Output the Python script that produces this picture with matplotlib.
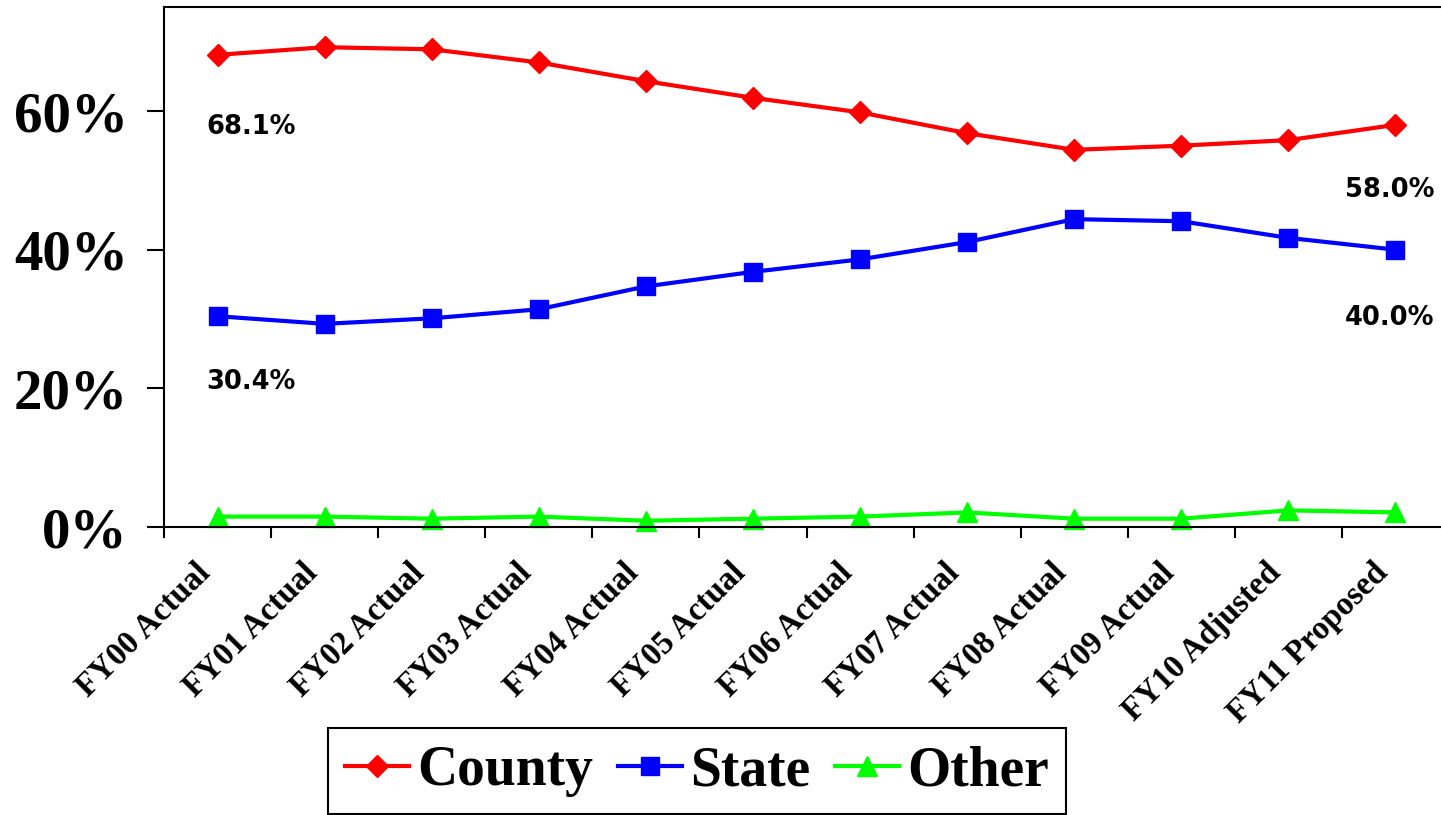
import matplotlib
matplotlib.use("Agg")
import matplotlib.pyplot as plt
import matplotlib.transforms as mtransforms
import numpy as np

categories = ["FY00 Actual", "FY01 Actual", "FY02 Actual", "FY03 Actual",
              "FY04 Actual", "FY05 Actual", "FY06 Actual", "FY07 Actual",
              "FY08 Actual", "FY09 Actual", "FY10 Adjusted", "FY11 Proposed"]
county = [68.1, 69.2, 68.9, 67.0, 64.3, 61.9, 59.8, 56.8, 54.4, 55.0, 55.8, 58.0]
state = [30.4, 29.3, 30.1, 31.4, 34.7, 36.8, 38.6, 41.1, 44.4, 44.1, 41.7, 40.0]
other = [1.5, 1.5, 1.2, 1.5, 0.9, 1.2, 1.5, 2.1, 1.2, 1.2, 2.4, 2.1]
yticks = [0, 20, 40, 60]
ytick_labels = ["0%", "20%", "40%", "60%"]

serif = "Liberation Serif"
sans = "DejaVu Sans"

fig = plt.figure(figsize=(14.41, 8.15), dpi=100)
ax = fig.add_axes([164 / 1441, 1 - 527 / 815, (1449 - 164) / 1441, (527 - 7) / 815])

x = np.arange(len(categories))
l1, = ax.plot(x, county, color="#FF0000", lw=3, marker="D", ms=11.5,
              mfc="#FF0000", mec="#FF0000", label="County", clip_on=False)
l2, = ax.plot(x, state, color="#0000FF", lw=3, marker="s", ms=13.5,
              mfc="#0000FF", mec="#0000FF", label="State", clip_on=False)
l3, = ax.plot(x, other, color="#00FF00", lw=3, marker="^", ms=15,
              mfc="#00FF00", mec="#00FF00", label="Other", clip_on=False)

ax.set_xlim(-0.5, len(categories) - 0.5)
ax.set_ylim(0, 75)

ax.set_yticks(yticks)
ax.set_yticklabels(ytick_labels, fontfamily=serif, fontweight="bold", fontsize=41)
ax.tick_params(axis="y", direction="out", length=12, width=1.5, pad=14, colors="black")

ax.set_xticks(x)
ax.set_xticklabels(categories, fontfamily=serif, fontweight="bold", fontsize=23.5,
                   rotation=45, ha="right", va="center", rotation_mode="anchor")
ax.tick_params(axis="x", which="major", length=0, pad=32)
ax.set_xticks(np.arange(-0.5, len(categories), 1.0), minor=True)
ax.tick_params(axis="x", which="minor", direction="out", length=8, width=1.5)
shift = mtransforms.ScaledTranslation(-12 / 100, 3 / 100, fig.dpi_scale_trans)
for lab in ax.get_xticklabels():
    lab.set_transform(lab.get_transform() + shift)

for s in ["left", "bottom", "top", "right"]:
    ax.spines[s].set_linewidth(1.5)
    ax.spines[s].set_color("black")

lab_kw = dict(fontfamily=sans, fontweight="bold", fontsize=18.5, color="black",
              textcoords="offset pixels", va="center")
ax.annotate(f"{county[0]:.1f}%", xy=(0, county[0]), xytext=(-11, -72), ha="left", **lab_kw)
ax.annotate(f"{state[0]:.1f}%", xy=(0, state[0]), xytext=(-11, -66), ha="left", **lab_kw)
ax.annotate(f"{county[-1]:.1f}%", xy=(11, county[-1]), xytext=(39, -65), ha="right", **lab_kw)
ax.annotate(f"{state[-1]:.1f}%", xy=(11, state[-1]), xytext=(39, -68), ha="right", **lab_kw)

leg = fig.legend(handles=[l1, l2, l3], loc="center", bbox_to_anchor=(697 / 1441, 1 - 771 / 815),
                 ncol=3, prop={"family": serif, "weight": "bold", "size": 40},
                 frameon=True, fancybox=False, edgecolor="black", framealpha=1,
                 handlelength=1.15, handletextpad=0.15, columnspacing=0.45,
                 borderpad=0.3, borderaxespad=0)
leg.get_frame().set_linewidth(1.5)

fig.savefig("out.png", dpi=100)
